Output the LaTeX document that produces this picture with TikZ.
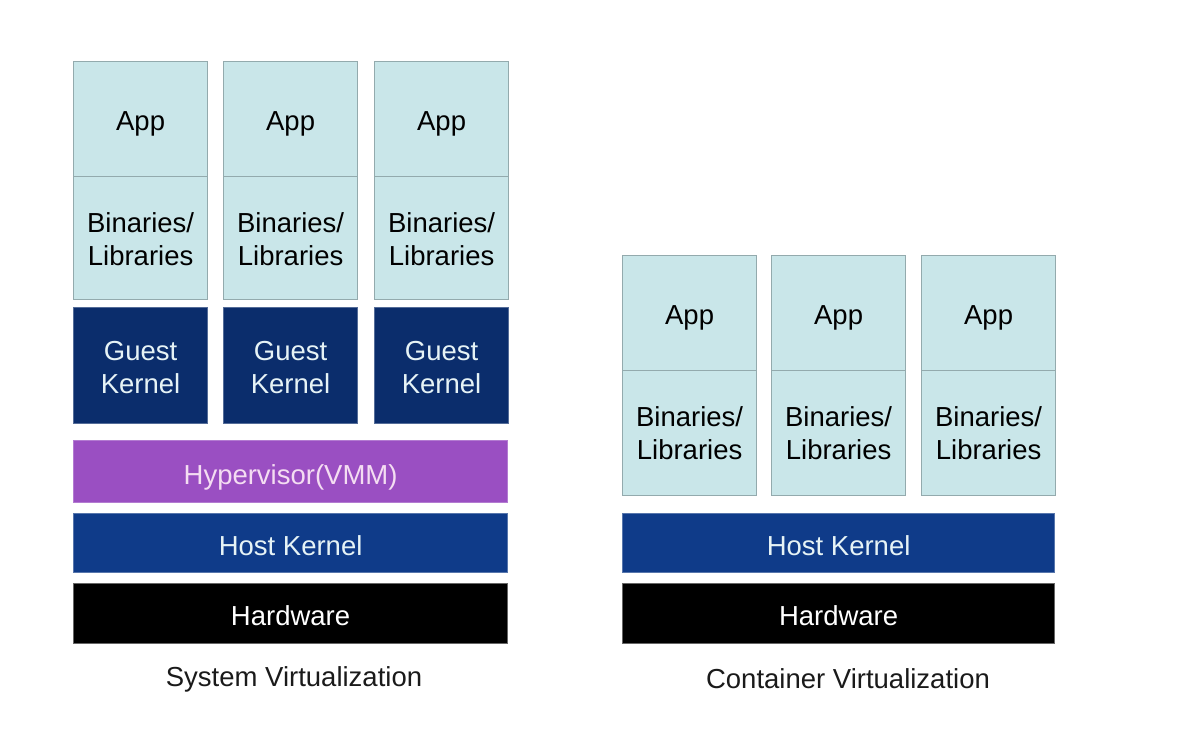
\documentclass[tikz,border=0pt]{standalone}
\usepackage{fontspec}
\setmainfont{Liberation Sans}
\definecolor{appfill}{HTML}{C9E6E9}
\definecolor{appdraw}{HTML}{93AAAD}
\definecolor{guestfill}{HTML}{0B2D6C}
\definecolor{hostfill}{HTML}{0F3B89}
\definecolor{hypfill}{HTML}{9A4FC2}
\definecolor{hyptext}{HTML}{F4DDF2}
\definecolor{lighttext}{HTML}{E6F3F6}
\definecolor{captext}{HTML}{1A1A1A}
\tikzset{
  base/.style={rectangle, anchor=north west, inner sep=0pt, line width=1.2pt},
  lbl/.style={align=center, inner sep=0pt, font=\fontsize{27.5}{33}\selectfont},
  appbox/.style={base, fill=appfill, draw=appdraw},
  guestbox/.style={base, fill=guestfill, draw=guestfill!70!white},
  hostbox/.style={base, fill=hostfill, draw=hostfill!70!white},
  hypbox/.style={base, fill=hypfill, draw=hypfill!75!white},
  hwbox/.style={base, fill=black, draw=black!60},
  caption/.style={font=\fontsize{27.5}{33}\selectfont, text=captext, inner sep=0pt}
}
\begin{document}
\begin{tikzpicture}[x=1pt,y=-1pt]
\useasboundingbox (0,0) rectangle (1192,742);
% System virtualization
\foreach \x/\n in {73/1,223/2,374/3}{
  \node[appbox, minimum width=134pt, minimum height=115pt,
    label={[lbl, text=black, yshift=-5pt]center:App}] (sapp\n) at (\x,61) {};
  \node[appbox, minimum width=134pt, minimum height=123pt,
    label={[lbl, text=black, yshift=-1pt]center:Binaries/\\Libraries}] (sbin\n) at (\x,176) {};
  \node[guestbox, minimum width=134pt, minimum height=116pt,
    label={[lbl, text=lighttext, yshift=-2pt]center:Guest\\Kernel}] (sguest\n) at (\x,307) {};
}
\node[hypbox, minimum width=434pt, minimum height=62pt,
  label={[lbl, text=hyptext, yshift=-6pt]center:Hypervisor(VMM)}] (hyp) at (73,440) {};
\node[hostbox, minimum width=434pt, minimum height=59pt,
  label={[lbl, text=lighttext, yshift=-3pt]center:Host Kernel}] (shost) at (73,513) {};
\node[hwbox, minimum width=434pt, minimum height=60pt,
  label={[lbl, text=white, yshift=-2pt]center:Hardware}] (shw) at (73,583) {};
\node[caption] (scap) at (294,679) {System Virtualization};
% Container virtualization
\foreach \x/\n in {622/1,771/2,921/3}{
  \node[appbox, minimum width=134pt, minimum height=115pt,
    label={[lbl, text=black, yshift=-5pt]center:App}] (capp\n) at (\x,255) {};
  \node[appbox, minimum width=134pt, minimum height=125pt,
    label={[lbl, text=black]center:Binaries/\\Libraries}] (cbin\n) at (\x,370) {};
}
\node[hostbox, minimum width=432pt, minimum height=59pt,
  label={[lbl, text=lighttext, yshift=-3pt]center:Host Kernel}] (chost) at (622,513) {};
\node[hwbox, minimum width=432pt, minimum height=60pt,
  label={[lbl, text=white, yshift=-2pt]center:Hardware}] (chw) at (622,583) {};
\node[caption] (ccap) at (848,679) {Container Virtualization};
\end{tikzpicture}
\end{document}
